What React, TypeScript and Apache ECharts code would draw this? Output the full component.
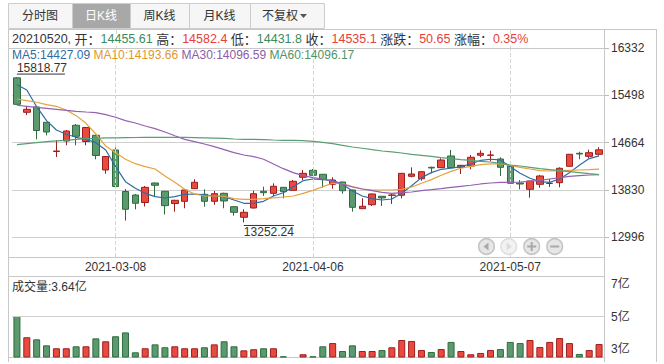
import React, { useEffect, useRef } from 'react';
import * as echarts from 'echarts';

const dates = [
  '2021-02-22','2021-02-23','2021-02-24','2021-02-25','2021-02-26',
  '2021-03-01','2021-03-02','2021-03-03','2021-03-04','2021-03-05',
  '2021-03-08','2021-03-09','2021-03-10','2021-03-11','2021-03-12',
  '2021-03-15','2021-03-16','2021-03-17','2021-03-18','2021-03-19',
  '2021-03-22','2021-03-23','2021-03-24','2021-03-25','2021-03-26',
  '2021-03-29','2021-03-30','2021-03-31','2021-04-01','2021-04-02',
  '2021-04-06','2021-04-07','2021-04-08','2021-04-09','2021-04-12',
  '2021-04-13','2021-04-14','2021-04-15','2021-04-16','2021-04-19',
  '2021-04-20','2021-04-21','2021-04-22','2021-04-23','2021-04-26',
  '2021-04-27','2021-04-28','2021-04-29','2021-04-30','2021-05-06',
  '2021-05-07','2021-05-10','2021-05-11','2021-05-12','2021-05-13',
  '2021-05-14','2021-05-17','2021-05-18','2021-05-19','2021-05-20',
];

const opens = [
  15805, 15197, 15291, 15021, 14505, 14691, 14968, 14682, 14791, 14179,
  14532, 13799, 13737, 13605, 13949, 13803, 13587, 13626, 13849, 13750,
  13626, 13767, 13531, 13344, 13508, 13803, 13767, 13873, 13820, 14050,
  14173, 14103, 13926, 13967, 13826, 13496, 13566, 13715, 13732, 13732,
  14067, 14025, 14226, 14220, 14426, 14226, 14249, 14438, 14438, 14373,
  14249, 13949, 13838, 13926, 13940, 13955, 14244, 14473, 14420, 14455.61,
];
const closes = [
  15338, 15250, 14876, 14849, 14514, 14867, 14774, 14929, 14435, 14417,
  13887, 13485, 13591, 13873, 13909, 13549, 13644, 13826, 13962, 13626,
  13760, 13632, 13432, 13432, 13760, 13778, 13891, 13796, 13979, 14120,
  14085, 14014, 14002, 13813, 13520, 13538, 13755, 13685, 13737, 14120,
  14108, 14149, 14214, 14355, 14220, 14261, 14403, 14473, 14443, 14226,
  13944, 13932, 13985, 14073, 13944, 14209, 14456, 14461, 14484.45, 14535.1,
];
const lows = [
  15330, 15149, 14720, 14788, 14408, 14615, 14615, 14615, 14368, 14113,
  13879, 13284, 13485, 13534, 13702, 13393, 13443, 13503, 13845, 13531,
  13566, 13503, 13372, 13252.24, 13499, 13720, 13720, 13679, 13817, 14002,
  14082, 13866, 13849, 13760, 13443, 13494, 13543, 13543, 13579, 13679,
  14050, 13990, 14120, 14218, 14218, 14108, 14191, 14403, 14332, 14073,
  13940, 13838, 13690, 13866, 13879, 13873, 14242, 14368, 14385, 14431.8,
];
const highs = [
  15818.77, 15296, 15308, 15025, 14708, 14885, 14991, 14938, 14797, 14426,
  14576, 13843, 13755, 13896, 13955, 13808, 13652, 13840, 14015, 13838,
  13808, 13778, 13543, 13485, 13813, 13884, 13944, 13879, 14002, 14179,
  14196, 14108, 14050, 13970, 13830, 13679, 13764, 13720, 13767, 14126,
  14226, 14161, 14238, 14385, 14532, 14267, 14443, 14526, 14520, 14403,
  14252, 14002, 13988, 14091, 14020, 14226, 14461, 14502, 14537, 14582.4,
];

// 成交量 (亿)
const volumes = [
  5.03, 3.72, 3.59, 3.22, 3.04, 3.04, 3.16, 3.16, 3.65, 3.47,
  3.78, 4.02, 2.79, 3.04, 3.28, 3.10, 3.16, 3.04, 3.04, 3.10,
  3.28, 3.47, 3.16, 2.91, 2.98, 3.04, 3.04, 2.54, 2.52, 2.67,
  2.54, 3.16, 3.36, 2.87, 3.22, 2.87, 2.87, 2.93, 3.10, 3.55,
  3.49, 2.93, 2.81, 2.99, 3.43, 2.87, 2.67, 2.75, 2.93, 2.99,
  3.43, 3.36, 3.55, 3.12, 3.43, 3.67, 3.36, 2.69, 2.93, 3.30,
];

const ma5 = [
  15685, 15591, 15296, 15049, 14885, 14809, 14756, 14720, 14661, 14532,
  14237, 13973, 13855, 13767, 13708, 13684, 13708, 13750, 13755, 13738,
  13720, 13708, 13649, 13591, 13591, 13626, 13720, 13778, 13884, 13990,
  14020, 14008, 13996, 13926, 13808, 13720, 13672, 13649, 13667, 13767,
  13902, 14044, 14132, 14191, 14209, 14237, 14285, 14350, 14368, 14356,
  14237, 14120, 14032, 13973, 13961, 14020, 14132, 14261, 14380, 14427.09,
];
const ma10 = [
  15432, 15402, 15374, 15332, 15303, 15238, 15138, 15003, 14814, 14602,
  14484, 14368, 14290, 14237, 14196, 14073, 13961, 13838, 13755, 13720,
  13720, 13714, 13672, 13661, 13661, 13672, 13685, 13702, 13720, 13767,
  13820, 13884, 13944, 13938, 13884, 13843, 13826, 13826, 13826, 13838,
  13879, 13944, 14008, 14085, 14155, 14209, 14244, 14273, 14285, 14285,
  14261, 14226, 14196, 14167, 14161, 14167, 14173, 14179, 14185, 14193.66,
];
const ma30 = [
  15321, 15303, 15285, 15268, 15250, 15232, 15215, 15202, 15191, 15155,
  15109, 15049, 15008, 14955, 14908, 14849, 14784, 14720, 14678, 14638,
  14590, 14537, 14484, 14443, 14414, 14368, 14285, 14202, 14132, 14079,
  14044, 14020, 13979, 13932, 13879, 13843, 13814, 13785, 13767, 13778,
  13790, 13814, 13831, 13849, 13873, 13891, 13909, 13932, 13949, 13961,
  13961, 13967, 13979, 13996, 14020, 14044, 14067, 14080, 14090, 14096.59,
];
const ma60 = [
  14625, 14643, 14661, 14678, 14691, 14703, 14720, 14731, 14738, 14744,
  14746, 14750, 14752, 14754, 14755, 14755, 14755, 14753, 14750, 14746,
  14742, 14738, 14726, 14720, 14720, 14714, 14708, 14703, 14703, 14697,
  14685, 14667, 14643, 14614, 14585, 14562, 14537, 14514, 14497, 14479,
  14456, 14438, 14420, 14396, 14378, 14361, 14350, 14332, 14320, 14297,
  14267, 14249, 14226, 14202, 14185, 14167, 14149, 14132, 14114, 14096.17,
];

const priceMin = 12996;
const priceMax = 16332;
const priceStep = 834;
const volMin = 2.5;
const volMax = 7.5;
const volStep = 0.5;
const volTickLabels = [3, 5, 7];
const volGridValue = 5;
const labelDates = ['2021-03-08', '2021-04-06', '2021-05-07'];
const tabs = ['分时图', '日K线', '周K线', '月K线', '不复权'];
const selectedTab = 1;
const infoDate = '20210520';
const infoOpen = '14455.61';
const infoHigh = '14582.4';
const infoLow = '14431.8';
const infoClose = '14535.1';
const infoChange = '50.65';
const infoPct = '0.35%';
const maNames = ['MA5', 'MA10', 'MA30', 'MA60'];
const maLast = ['14427.09', '14193.66', '14096.59', '14096.17'];
const volLastLabel = '3.64亿';

const FONT = "'Liberation Sans', 'Noto Sans CJK SC', sans-serif";
const UP = '#e84a3f';
const UPB = '#9c1f1f';
const DN = '#5b9a6e';
const DNB = '#2f6b3d';
const MA_COLORS = ['#2e6ca4', '#e6a23c', '#9461b0', '#5a9e74'];
const MA_TEXT = ['#2e6ca4', '#e0982c', '#8d5ca8', '#4e9467'];
const GRID = '#cfcfcf';

export default function App() {
  const ref = useRef<HTMLDivElement>(null);
  useEffect(() => {
    if (!ref.current) return;
    const chart = echarts.init(ref.current, undefined, { renderer: 'svg' });
    const maSeries = [ma5, ma10, ma30, ma60].map((d, k) => ({
      type: 'line',
      name: maNames[k],
      xAxisIndex: 0,
      yAxisIndex: 0,
      data: d,
      symbol: 'none',
      smooth: false,
      lineStyle: { width: 1.2, color: MA_COLORS[k] },
      z: 3 + k,
    }));
    const option: any = {
      animation: false,
      backgroundColor: '#fff',
      grid: [
        { left: 12, right: 60, top: 48, height: 189 },
        { left: 12, right: 60, top: 276, height: 81 },
      ],
      xAxis: [
        {
          type: 'category', gridIndex: 0, data: dates, boundaryGap: true, offset: 20,
          axisLine: { lineStyle: { color: '#c8c8c8' } },
          axisTick: {
            show: true, alignWithLabel: true, inside: true, length: 20,
            interval: (i: number, v: string) => labelDates.includes(v),
            lineStyle: { color: '#d6d6d6', type: 'dashed' },
          },
          axisLabel: {
            interval: (i: number, v: string) => labelDates.includes(v),
            color: '#333', fontSize: 12, fontFamily: FONT, margin: 4,
          },
          splitLine: { show: false },
        },
        {
          type: 'category', gridIndex: 1, data: dates, boundaryGap: true,
          axisLine: { lineStyle: { color: '#c8c8c8' } },
          axisTick: { show: false }, axisLabel: { show: false }, splitLine: { show: false },
        },
      ],
      yAxis: [
        {
          type: 'value', gridIndex: 0, position: 'right',
          min: priceMin, max: priceMax, interval: priceStep,
          axisLine: { show: false },
          axisTick: { show: true, length: 5, lineStyle: { color: '#bbb' } },
          axisLabel: { color: '#333', fontSize: 12, fontFamily: FONT, margin: 7, formatter: (v: number) => String(Math.round(v)) },
          splitLine: { lineStyle: { color: GRID, width: 1 } },
        },
        {
          type: 'value', gridIndex: 1, position: 'right',
          min: volMin, max: volMax, interval: volStep,
          axisLine: { show: false }, axisTick: { show: false },
          axisLabel: {
            color: '#333', fontSize: 12, fontFamily: FONT, margin: 7,
            formatter: (v: number) => (volTickLabels.includes(Math.round(v * 10) / 10) ? `${Math.round(v)}亿` : ''),
          },
          splitLine: { show: false },
        },
      ],
      series: [
        {
          type: 'candlestick', name: 'K', xAxisIndex: 0, yAxisIndex: 0,
          data: dates.map((_, i) => [opens[i], closes[i], lows[i], highs[i]]),
          barWidth: 7,
          itemStyle: { color: UP, color0: DN, borderColor: UPB, borderColor0: DNB, borderWidth: 1 },
          markLine: {
            silent: true, symbol: ['none', 'none'], label: { show: false },
            lineStyle: { color: '#d6d6d6', type: 'dashed', width: 1 },
            data: labelDates.map((d) => ({ xAxis: d })),
          },
          z: 2,
        },
        ...maSeries,
        {
          type: 'bar', name: 'VOL', xAxisIndex: 1, yAxisIndex: 1,
          barWidth: 7,
          data: volumes.map((v, i) => ({
            value: v,
            itemStyle: {
              color: closes[i] >= opens[i] ? UP : DN,
              borderColor: closes[i] >= opens[i] ? UPB : DNB,
              borderWidth: 1,
            },
          })),
          markLine: {
            silent: true, symbol: ['none', 'none'], label: { show: false },
            lineStyle: { color: GRID, type: 'solid', width: 1 },
            data: [{ yAxis: volGridValue }],
          },
        },
      ],
    };
    chart.setOption(option);

    const hiIdx = highs.indexOf(Math.max(...highs));
    const loIdx = lows.indexOf(Math.min(...lows));
    const ph = chart.convertToPixel({ xAxisIndex: 0, yAxisIndex: 0 }, [hiIdx, highs[hiIdx]]) as number[];
    const pl = chart.convertToPixel({ xAxisIndex: 0, yAxisIndex: 0 }, [loIdx, lows[loIdx]]) as number[];

    const tabEdges = [8, 72, 130, 189, 250, 324];
    const gfx: any[] = [];
    const line = (x1: number, y1: number, x2: number, y2: number, color = '#c8c8c8', dashed = false) => ({
      type: 'line', silent: true, z: 50,
      shape: { x1, y1, x2, y2 }, style: { stroke: color, lineWidth: 1, lineDash: dashed ? [4, 4] : null },
    });
    // frame lines
    gfx.push(line(8, 29.5, 656.5, 29.5));
    gfx.push(line(8.5, 29, 8.5, 362));
    gfx.push(line(656.5, 29, 656.5, 362));
    gfx.push(line(604.5, 29, 604.5, 362));
    gfx.push(line(8, 48.5, 604, 48.5));
    gfx.push(line(8, 276.5, 604, 276.5));
    gfx.push(line(8, 257.5, 12, 257.5));
    gfx.push(line(8, 357.5, 12, 357.5));
    // dashed date lines extended into the info row
    labelDates.forEach((d) => {
      const p = chart.convertToPixel({ xAxisIndex: 0, yAxisIndex: 0 }, [d, priceMax]) as number[];
      const x = Math.round(p[0]) + 0.5;
      gfx.push({ ...line(x, 30, x, 48, '#d6d6d6', true), z: 1 });
    });
    // tabs
    tabs.forEach((t, k) => {
      const x0 = tabEdges[k];
      const x1 = tabEdges[k + 1];
      const sel = k === selectedTab;
      gfx.push({
        type: 'rect', silent: true, z: 40,
        shape: { x: x0 + 0.5, y: 3.5, width: x1 - x0, height: 25 },
        style: { fill: sel ? '#a8a8a8' : '#f6f6f6', stroke: '#cccccc', lineWidth: 1 },
      });
      const isLast = k === tabs.length - 1;
      gfx.push({
        type: 'text', silent: true, z: 41,
        x: isLast ? x0 + 12 : (x0 + x1) / 2, y: 16,
        style: {
          text: t, fill: sel ? '#fff' : '#333', fontSize: 12, fontFamily: FONT,
          align: isLast ? 'left' : 'center', verticalAlign: 'middle',
        },
      });
      if (isLast) {
        gfx.push({
          type: 'polygon', silent: true, z: 41,
          shape: { points: [[300, 14], [307, 14], [303.5, 18]] },
          style: { fill: '#555' },
        });
      }
    });
    // info row
    gfx.push({
      type: 'text', silent: true, z: 60, x: 12, y: 39,
      style: {
        text: `{n|${infoDate}, }{d|开：}{g|${infoOpen}} {d|高：}{r|${infoHigh}} {d|低：}{g|${infoLow}} {d|收：}{r|${infoClose}} {d|涨跌：}{r|${infoChange}} {d|涨幅：}{r|${infoPct}}`,
        verticalAlign: 'middle', fontSize: 12.5, fontFamily: FONT,
        rich: {
          n: { fill: '#333', fontSize: 12.5, fontFamily: FONT },
          d: { fill: '#333', fontSize: 13, fontFamily: FONT },
          g: { fill: '#3d8a5c', fontSize: 12.5, fontFamily: FONT },
          r: { fill: '#e8403a', fontSize: 12.5, fontFamily: FONT },
        },
      },
    });
    // MA row
    gfx.push({
      type: 'text', silent: true, z: 60, x: 12, y: 55,
      style: {
        text: maNames.map((n, k) => `{m${k}|${n}:${maLast[k]}}`).join(' '),
        verticalAlign: 'middle', fontSize: 12, fontFamily: FONT,
        rich: Object.fromEntries(MA_TEXT.map((c, k) => [`m${k}`, { fill: c, fontSize: 12, fontFamily: FONT }])),
      },
    });
    // volume label
    gfx.push({
      type: 'text', silent: true, z: 60, x: 12, y: 287,
      style: { text: `成交量:${volLastLabel}`, fill: '#333', fontSize: 12, fontFamily: FONT, verticalAlign: 'middle' },
    });
    // high / low annotations
    gfx.push(line(ph[0], ph[1] - 3, ph[0] + 48, ph[1] - 3, '#333'));
    gfx.push({
      type: 'text', silent: true, z: 60, x: ph[0], y: ph[1] - 3.5,
      style: { text: highs[hiIdx].toFixed(2), fill: '#333', fontSize: 12, fontFamily: FONT, verticalAlign: 'bottom' },
    });
    gfx.push(line(pl[0], pl[1] + 3, pl[0] + 50, pl[1] + 3, '#333'));
    gfx.push({
      type: 'text', silent: true, z: 60, x: pl[0], y: pl[1] + 4,
      style: { text: lows[loIdx].toFixed(2), fill: '#333', fontSize: 12, fontFamily: FONT, verticalAlign: 'top' },
    });
    // zoom buttons
    const btnX = [486.5, 508.7, 531.7, 554.7];
    const by = 246.5;
    btnX.forEach((cx, k) => {
      const dis = k === 1;
      gfx.push({
        type: 'circle', silent: true, z: 70,
        shape: { cx, cy: by, r: 7.8 },
        style: { fill: dis ? '#f2f2f2' : '#e6e6e6', stroke: dis ? '#e0e0e0' : '#c6c6c6', lineWidth: 1.6 },
      });
      const gc = dis ? '#dcdcdc' : '#a9a9a9';
      if (k === 0) {
        gfx.push({ type: 'polygon', silent: true, z: 71, shape: { points: [[cx - 3, by], [cx + 2, by - 4], [cx + 2, by + 4]] }, style: { fill: gc } });
      } else if (k === 1) {
        gfx.push({ type: 'polygon', silent: true, z: 71, shape: { points: [[cx + 3, by], [cx - 2, by - 4], [cx - 2, by + 4]] }, style: { fill: gc } });
      } else {
        gfx.push({ type: 'rect', silent: true, z: 71, shape: { x: cx - 4.5, y: by - 1, width: 9, height: 2 }, style: { fill: gc } });
        if (k === 2) {
          gfx.push({ type: 'rect', silent: true, z: 71, shape: { x: cx - 1, y: by - 4.5, width: 2, height: 9 }, style: { fill: gc } });
        }
      }
    });
    chart.setOption({ graphic: gfx });
    return () => chart.dispose();
  }, []);
  return (
    <div
      ref={ref}
      style={{ position: 'absolute', left: 0, top: 0, width: 664, height: 364, background: '#fff' }}
    />
  );
}
